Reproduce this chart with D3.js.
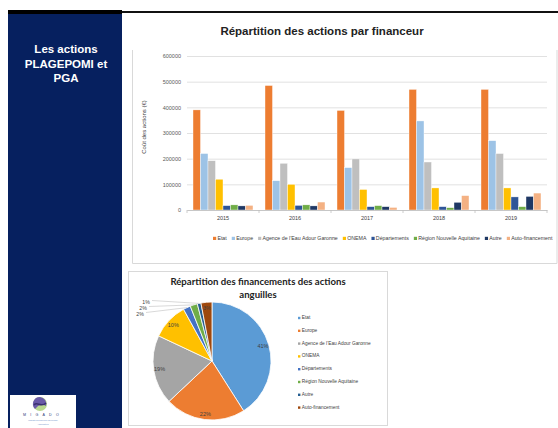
<!DOCTYPE html>
<html>
<head>
<meta charset="utf-8">
<script src="https://cdn.jsdelivr.net/npm/d3@7"></script>
<style>
  html, body { margin: 0; padding: 0; background: #fff; }
  svg { display: block; }
  text { font-family: "Liberation Sans", Arial, sans-serif; }
</style>
</head>
<body>
<svg id="slide" width="558" height="428"></svg>
<script>
// ---- data ----
const years = ["2015", "2016", "2017", "2018", "2019"];
const financeurs = ["Etat", "Europe", "Agence de l’Eau Adour Garonne", "ONEMA",
  "Départements", "Région Nouvelle Aquitaine", "Autre", "Auto-financement"];
const etat         = [390000, 485000, 388000, 470000, 470000];
const europe       = [220000, 114000, 165000, 347000, 270000];
const agence       = [192000, 182000, 199000, 187000, 220000];
const onema        = [120000, 100000,  80000,  86000,  86000];
const departements = [ 17000,  18000,  13000,  13000,  51000];
const region       = [ 20000,  20000,  17000,   9000,  13000];
const autre        = [ 16000,  16000,  13000,  30000,  53000];
const autofin      = [ 18000,  31000,  10000,  56000,  66000];
const yTicks = [0, 100000, 200000, 300000, 400000, 500000, 600000];

// share of funding for the eel actions (%)
const piePct = [41, 22, 19, 10, 2, 2, 1, 3];

const barColors = ["#ED7D31", "#9DC3E6", "#BFBFBF", "#FFC000", "#2F5597", "#70AD47", "#1F3864", "#F4B183"];
const pieColors = ["#5B9BD5", "#ED7D31", "#A5A5A5", "#FFC000", "#4472C4", "#70AD47", "#255E91", "#9E480E"];

const series = [etat, europe, agence, onema, departements, region, autre, autofin];

const svg = d3.select("#slide");

// ---- side panel ----
svg.append("rect").attr("x", 8).attr("y", 12).attr("width", 114).attr("height", 416).attr("fill", "#06205F");
svg.append("rect").attr("x", 8).attr("y", 10).attr("width", 114).attr("height", 4).attr("fill", "#000");
svg.append("rect").attr("x", 122).attr("y", 11).attr("width", 436).attr("height", 2).attr("fill", "#111");

const side = svg.append("text").attr("fill", "#fff").attr("font-weight", "bold")
  .attr("font-size", 11.5).attr("text-anchor", "middle");
["Les actions", "PLAGEPOMI et", "PGA"].forEach((t, i) =>
  side.append("tspan").attr("x", 66).attr("y", 53 + i * 14.5).text(t));

// logo block
const logo = svg.append("g");
logo.append("rect").attr("x", 10).attr("y", 395).attr("width", 66).attr("height", 33).attr("fill", "#fff");
logo.append("circle").attr("cx", 40).attr("cy", 404).attr("r", 7).attr("fill", "#B9D98E");
logo.append("path").attr("d", "M40,397 A7,7 0 0,0 35,409 L38,406 L42,404 L46,406 A7,7 0 0,0 40,397 Z").attr("fill", "#6A5AA8");
logo.append("path").attr("d", "M34,405 C37,401 41,408 46,403").attr("fill", "none").attr("stroke", "#3B3170").attr("stroke-width", 1.5);
logo.append("text").attr("x", 43).attr("y", 416).attr("text-anchor", "middle")
  .attr("font-size", 3.6).attr("fill", "#2E3A7A").attr("letter-spacing", 4.2).text("MIGADO");
logo.append("text").attr("x", 43).attr("y", 421).attr("text-anchor", "middle")
  .attr("font-size", 2.2).attr("fill", "#6A8EC8").text("Migrateurs Garonne Dordogne");
logo.append("text").attr("x", 43).attr("y", 424.5).attr("text-anchor", "middle")
  .attr("font-size", 2.2).attr("fill", "#6A8EC8").text("Association");

// ---- bar chart ----
svg.append("path").attr("d", "M132.5,50 V263.5 H557 V50").attr("fill", "none").attr("stroke", "#D9D9D9").attr("stroke-width", 1);

svg.append("text").attr("x", 322).attr("y", 35).attr("text-anchor", "middle")
  .attr("font-weight", "bold").attr("font-size", 11.5).attr("fill", "#222")
  .text("Répartition des actions par financeur");

const y = d3.scaleLinear().domain([0, 600000]).range([210, 56]);
const x0 = d3.scaleBand().domain(years).range([187, 547]).paddingInner(1 / 6).paddingOuter(1 / 12);
const x1 = d3.scaleBand().domain(d3.range(financeurs.length)).range([0, x0.bandwidth()]);

// gridlines + value axis labels
const yAxis = d3.axisLeft(y).tickValues(yTicks).tickSize(-(547 - 187)).tickFormat(d3.format("d"));
const gy = svg.append("g").attr("transform", "translate(187,0)").call(yAxis);
gy.select(".domain").remove();
gy.selectAll(".tick line").attr("stroke", "#D9D9D9").attr("stroke-width", 0.8);
gy.selectAll(".tick text").attr("x", -6).attr("font-size", 5.5).attr("fill", "#595959")
  .attr("font-family", "'Liberation Sans', Arial, sans-serif");

svg.append("text").attr("transform", "translate(146,127) rotate(-90)").attr("text-anchor", "middle")
  .attr("font-size", 6).attr("fill", "#404040").text("Coût des actions (€)");

// bars
const groups = svg.append("g").selectAll("g").data(years).join("g")
  .attr("transform", d => `translate(${x0(d)},0)`);
groups.selectAll("rect")
  .data((yr, i) => series.map((s, k) => ({ k, v: s[i] })))
  .join("rect")
  .attr("x", d => x1(d.k))
  .attr("width", x1.bandwidth())
  .attr("y", d => y(d.v))
  .attr("height", d => y(0) - y(d.v))
  .attr("fill", d => barColors[d.k])
  .attr("stroke", "#fff").attr("stroke-width", 0.4);

// category axis with tick marks between groups
const xAxis = d3.axisBottom(x0).tickSize(0).tickPadding(6);
const gx = svg.append("g").attr("transform", "translate(0,210)").call(xAxis);
gx.select(".domain").attr("stroke", "#BFBFBF").attr("stroke-width", 0.8);
gx.selectAll(".tick text").attr("font-size", 5.5).attr("fill", "#404040")
  .attr("font-family", "'Liberation Sans', Arial, sans-serif");
const bounds = years.map(d => x0(d) - x0.step() * x0.paddingInner() / 2).concat([547]);
gx.selectAll("line.sep").data(bounds).join("line").attr("class", "sep")
  .attr("x1", d => d).attr("x2", d => d).attr("y1", 0).attr("y2", 3)
  .attr("stroke", "#BFBFBF").attr("stroke-width", 0.8);

// legend, spread between x=213 and x=553
const legStart = 213, legEnd = 553, gap = 5;
const leg = svg.append("g").attr("transform", "translate(0,240)");
const items = leg.selectAll("g").data(financeurs).join("g");
items.append("rect").attr("width", 3.2).attr("height", 3.2).attr("y", -3.2).attr("fill", (d, i) => barColors[i]);
const legText = items.append("text").attr("x", 4.4).attr("font-size", 5.6).attr("fill", "#404040").text(d => d);
const measure = () => legText.nodes().map(n => 4.4 + n.getComputedTextLength());
let widths = measure();
let total = d3.sum(widths) + gap * (widths.length - 1);
if (total > legEnd - legStart) {
  const textW = d3.sum(legText.nodes(), n => n.getComputedTextLength());
  const room = (legEnd - legStart) - gap * (widths.length - 1) - 4.4 * widths.length;
  legText.attr("font-size", 5.6 * room / textW);
  widths = measure();
}
let cursor = legStart;
items.attr("transform", (d, i) => {
  const t = `translate(${cursor},0)`;
  cursor += widths[i] + gap;
  return t;
});

// ---- pie chart ----
svg.append("rect").attr("x", 128.5).attr("y", 271.5).attr("width", 259).attr("height", 154)
  .attr("fill", "#fff").attr("stroke", "#D9D9D9").attr("stroke-width", 1);

const pt = svg.append("text").attr("text-anchor", "middle").attr("font-weight", "bold")
  .attr("font-size", 9.6).attr("fill", "#222").style("font-family", "Lato, 'Liberation Sans', sans-serif");
pt.append("tspan").attr("x", 258).attr("y", 285).text("Répartition des financements des actions");
pt.append("tspan").attr("x", 258).attr("y", 297.5).text("anguilles");

const cx = 212, cy = 361, r = 59;
const pie = d3.pie().sort(null).value(d => d);
const arcs = pie(piePct);
const arc = d3.arc().innerRadius(0).outerRadius(r);
const labelArc = d3.arc().innerRadius(r * 0.9).outerRadius(r * 0.9);
const pg = svg.append("g").attr("transform", `translate(${cx},${cy})`);
pg.selectAll("path").data(arcs).join("path")
  .attr("d", arc).attr("fill", (d, i) => pieColors[i])
  .attr("stroke", "#fff").attr("stroke-width", 0.8);

// labels inside the larger slices
const inside = arcs.filter(a => a.data >= 3);
pg.selectAll("text.in").data(inside).join("text").attr("class", "in")
  .attr("transform", d => `translate(${labelArc.centroid(d)})`)
  .attr("text-anchor", "middle").attr("dy", "0.35em")
  .attr("font-size", 5.5).attr("fill", "#404040").text(d => d.data + "%");

// small slices labelled to the left with leader lines
const outside = arcs.filter(a => a.data < 3).reverse();
outside.forEach((d, j) => {
  const mid = (d.startAngle + d.endAngle) / 2;
  const px = Math.sin(mid) * r, py = -Math.cos(mid) * r;
  const lx = -66 + j * -3, ly = -59 + j * 6;
  pg.append("polyline")
    .attr("points", `${lx + 6},${ly - 1.5} ${px},${py}`)
    .attr("fill", "none").attr("stroke", "#BFBFBF").attr("stroke-width", 0.6);
  pg.append("text").attr("x", lx).attr("y", ly).attr("dy", "0.35em").attr("text-anchor", "middle")
    .attr("font-size", 5.2).attr("fill", "#404040").text(d.data + "%");
});

// pie legend
const pl = svg.append("g");
const pItems = pl.selectAll("g").data(financeurs).join("g")
  .attr("transform", (d, i) => `translate(298,${319 + i * 12.8})`);
pItems.append("rect").attr("width", 2.4).attr("height", 2.4).attr("y", -2.2).attr("fill", (d, i) => pieColors[i]);
pItems.append("text").attr("x", 3.8).attr("font-size", 4.8).attr("fill", "#404040").text(d => d);
</script>
</body>
</html>
